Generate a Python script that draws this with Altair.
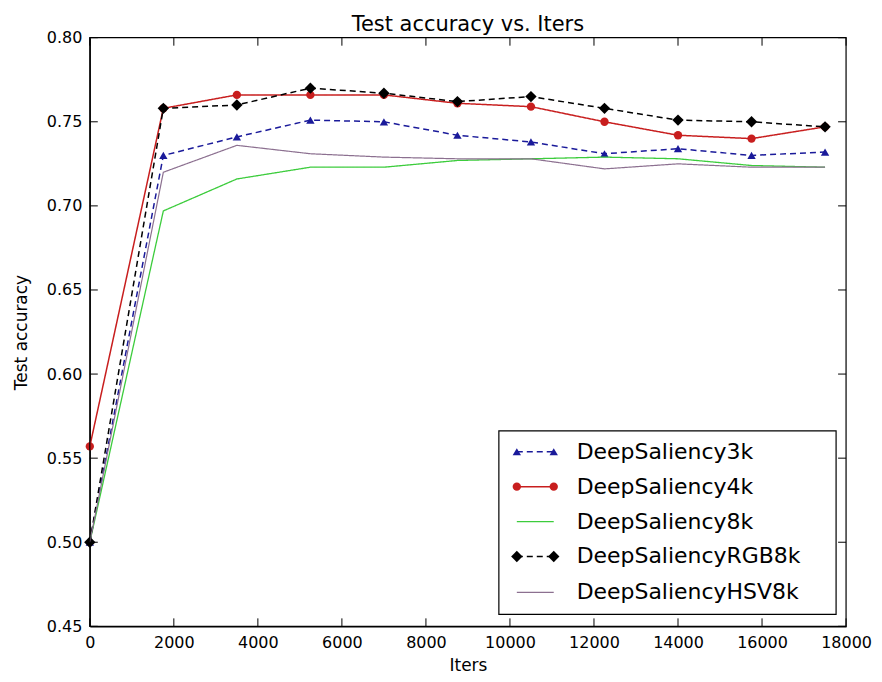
import altair as alt
import pandas as pd

# ---- data ----
iters = [0, 1750, 3500, 5250, 7000, 8750, 10500, 12250, 14000, 15750, 17500]
acc_3k = [0.500, 0.730, 0.741, 0.751, 0.750, 0.742, 0.738, 0.731, 0.734, 0.730, 0.732]
acc_4k = [0.557, 0.758, 0.766, 0.766, 0.766, 0.761, 0.759, 0.750, 0.742, 0.740, 0.747]
acc_8k = [0.500, 0.697, 0.716, 0.723, 0.723, 0.727, 0.728, 0.729, 0.728, 0.724, 0.723]
acc_rgb8k = [0.500, 0.758, 0.760, 0.770, 0.767, 0.762, 0.765, 0.758, 0.751, 0.750, 0.747]
acc_hsv8k = [0.500, 0.720, 0.736, 0.731, 0.729, 0.728, 0.728, 0.722, 0.725, 0.723, 0.723]

series_names = ["DeepSaliency3k", "DeepSaliency4k", "DeepSaliency8k",
                "DeepSaliencyRGB8k", "DeepSaliencyHSV8k"]
series_values = [acc_3k, acc_4k, acc_8k, acc_rgb8k, acc_hsv8k]

x_ticks = [0, 2000, 4000, 6000, 8000, 10000, 12000, 14000, 16000, 18000]
y_ticks = [0.45, 0.50, 0.55, 0.60, 0.65, 0.70, 0.75, 0.80]
title_text = "Test accuracy  vs. Iters"

# ---- styles ----
colors = ["#1a1a9a", "#c81e1e", "#3ccc3c", "#000000", "#8c7090"]
dashes = [[6, 4], [1, 0], [1, 0], [6, 4], [1, 0]]
widths = [1.5, 1.5, 1.3, 1.5, 1.2]
shapes = ["triangle-up", "circle", None, "diamond", None]
sizes = [70, 70, 0, 130, 0]

W, H = 758, 590
FONT = "DejaVu Sans"

xscale = alt.Scale(domain=[0, 18000], nice=False, zero=False)
yscale = alt.Scale(domain=[0.45, 0.80], nice=False, zero=False)

axis_style = dict(ticks=False, grid=False, labelPadding=8, labelFlush=False,
                  domainColor="black", domainWidth=1.2, labelFont=FONT,
                  labelFontSize=16, labelColor="black", titleFont=FONT,
                  titleFontSize=17, titleFontWeight="normal", titleColor="black")
x_axis = alt.Axis(values=x_ticks, format="d", title="Iters", titlePadding=7, **axis_style)
y_axis = alt.Axis(values=y_ticks, format=".2f", title="Test accuracy",
                  titlePadding=16, **axis_style)


def X(field):
    return alt.X(field, scale=xscale, axis=x_axis)


def Y(field):
    return alt.Y(field, scale=yscale, axis=y_axis)


layers = []
for i, (name, vals) in enumerate(zip(series_names, series_values)):
    df = pd.DataFrame({"iters": iters, "acc": vals, "series": name})
    base = alt.Chart(df)
    enc = dict(x=X("iters:Q"), y=Y("acc:Q"))
    layers.append(base.mark_line(color=colors[i], strokeDash=dashes[i],
                                 strokeWidth=widths[i]).encode(**enc))
    if shapes[i]:
        layers.append(base.mark_point(shape=shapes[i], filled=True, color=colors[i],
                                      size=sizes[i], opacity=1).encode(**enc))

# frame
frame = alt.Chart(pd.DataFrame({"a": [0]})).mark_rect(
    fill=None, stroke="black", strokeWidth=1.2).encode(
    x=alt.value(0), x2=alt.value(W), y=alt.value(0), y2=alt.value(H))
layers.append(frame)

# inward ticks on all four sides
xt = alt.Chart(pd.DataFrame({"iters": x_ticks}))
yt = alt.Chart(pd.DataFrame({"acc": y_ticks}))
tick_style = dict(color="black", strokeWidth=1)
layers += [
    xt.mark_rule(**tick_style).encode(x=X("iters:Q"), y=alt.value(H), y2=alt.value(H - 8)),
    xt.mark_rule(**tick_style).encode(x=X("iters:Q"), y=alt.value(0), y2=alt.value(8)),
    yt.mark_rule(**tick_style).encode(y=Y("acc:Q"), x=alt.value(0), x2=alt.value(8)),
    yt.mark_rule(**tick_style).encode(y=Y("acc:Q"), x=alt.value(W), x2=alt.value(W - 8)),
]

# title (as a text mark above the plot)
layers.append(alt.Chart(pd.DataFrame({"t": [title_text]})).mark_text(
    align="center", baseline="alphabetic", font=FONT, fontSize=21, color="black").encode(
    x=alt.value(W / 2), y=alt.value(-7), text="t:N"))

# legend (lower right, framed)
leg_x0, leg_x1, leg_y0, leg_y1 = 410, 748, 394, 578
row_y = [415, 450, 485, 520, 556]
mk_a, mk_b, txt_x = 428, 465, 488
box = alt.Chart(pd.DataFrame({"a": [0]})).mark_rect(
    fill="white", stroke="black", strokeWidth=1.2).encode(
    x=alt.value(leg_x0), x2=alt.value(leg_x1), y=alt.value(leg_y0), y2=alt.value(leg_y1))
layers.append(box)
for i, name in enumerate(series_names):
    one = alt.Chart(pd.DataFrame({"series": [name]}))
    yy = row_y[i]
    layers.append(one.mark_rule(color=colors[i], strokeDash=dashes[i],
                                strokeWidth=widths[i]).encode(
        x=alt.value(mk_a), x2=alt.value(mk_b), y=alt.value(yy)))
    if shapes[i]:
        for xx in (mk_a, mk_b):
            layers.append(one.mark_point(shape=shapes[i], filled=True, color=colors[i],
                                         size=sizes[i], opacity=1).encode(
                x=alt.value(xx), y=alt.value(yy)))
    layers.append(one.mark_text(align="left", baseline="middle", font=FONT,
                                fontSize=22, color="black").encode(
        x=alt.value(txt_x), y=alt.value(yy), text="series:N"))

chart = alt.layer(*layers).properties(
    width=W, height=H,
    background="white",
    autosize=alt.AutoSizeParams(type="none"),
    padding={"left": 82, "top": 29, "right": 28, "bottom": 47},
).configure_view(stroke=None)

chart.save("out.html", embed_options={"renderer": "svg", "actions": False})
